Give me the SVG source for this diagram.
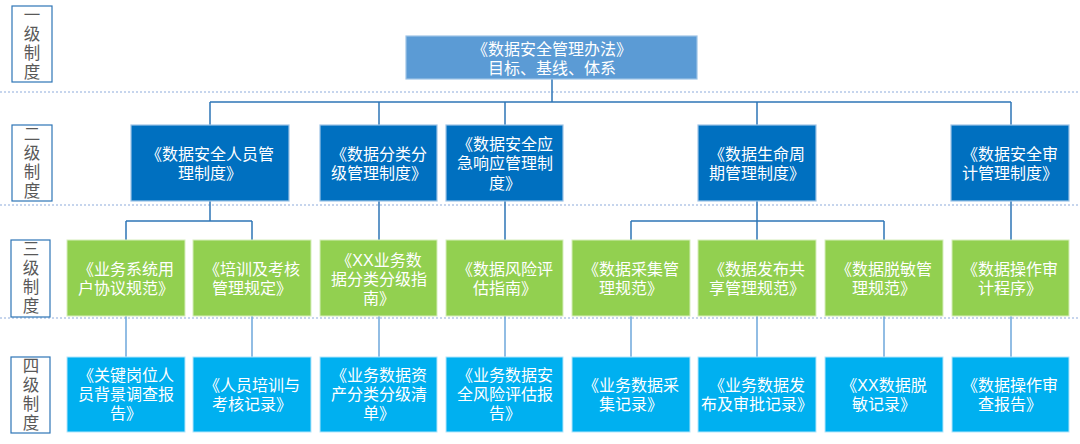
<svg xmlns="http://www.w3.org/2000/svg" width="1080" height="444" viewBox="0 0 1080 444">
<style>
.t{font-family:"Liberation Sans","Noto Sans CJK SC",sans-serif;font-size:16px;fill:#ffffff;text-anchor:middle;dominant-baseline:central}
.lab{font-family:"Liberation Sans","Noto Sans CJK SC",sans-serif;font-size:16.5px;fill:#595959;text-anchor:middle;dominant-baseline:central}
.lbox{fill:#ffffff;stroke:#2e75b6;stroke-width:1.2}
.top{fill:#5b9bd5;stroke:#9dc3e6;stroke-width:1.2}
.l2{fill:#0070c0;stroke:#9dc3e6;stroke-width:1.2}
.l3{fill:#92d050;stroke:#d6eebc;stroke-width:1}
.l4{fill:#00b0f0;stroke:#b3e6fb;stroke-width:1}
.dot{stroke:#b4c7e7;stroke-width:1.5;stroke-dasharray:2 2;fill:none}
.c1{stroke:#2e75b6;stroke-width:1.5;fill:none}
.c2{stroke:#6fa8dc;stroke-width:1.5;fill:none}
</style>
<rect width="1080" height="444" fill="#ffffff"/>
<g id="guides">
<line class="dot" x1="0" y1="92" x2="1080" y2="92"/>
<line class="dot" x1="0" y1="205" x2="1080" y2="205"/>
<line class="dot" x1="0" y1="318" x2="1080" y2="318"/>
</g>
<g id="level-labels">
<g id="lab1"><rect class="lbox" x="12" y="6" width="40" height="76"/><text class="lab" x="32" y="15">一</text><text class="lab" x="32" y="34">级</text><text class="lab" x="32" y="53">制</text><text class="lab" x="32" y="72">度</text></g>
<g id="lab2"><rect class="lbox" x="12" y="125" width="40" height="76"/><text class="lab" x="32" y="134">二</text><text class="lab" x="32" y="153">级</text><text class="lab" x="32" y="172">制</text><text class="lab" x="32" y="191">度</text></g>
<g id="lab3"><rect class="lbox" x="11" y="240" width="39" height="77"/><text class="lab" x="31" y="249">三</text><text class="lab" x="31" y="268">级</text><text class="lab" x="31" y="287">制</text><text class="lab" x="31" y="306">度</text></g>
<g id="lab4"><rect class="lbox" x="11" y="357" width="39" height="76"/><text class="lab" x="31" y="366">四</text><text class="lab" x="31" y="385">级</text><text class="lab" x="31" y="404">制</text><text class="lab" x="31" y="423">度</text></g>
</g>
<g id="connectors">
<path class="c1" d="M552 79V102M210 102H1011M210 102V125M379 102V125M505 102V125M757 102V125M1011 102V125"/>
<path class="c1" d="M210 201V221M126 221H252M126 221V240M252 221V240"/>
<path class="c1" d="M379 201V240M505 201V240M1011 201V240"/>
<path class="c1" d="M757 201V221M631 221H884M631 221V240M757 221V240M884 221V240"/>
<path class="c2" d="M126 316V357M252 316V357M379 316V357M505 316V357M631 316V357M757 316V357M884 316V357M1011 316V357"/>
</g>
<g id="n-top"><rect class="top" x="406" y="36" width="291" height="43"/><text class="t" x="552" y="49">《数据安全管理办法》</text><text class="t" x="552" y="68">目标、基线、体系</text></g>
<g id="n2-a"><rect class="l2" x="131" y="125" width="158" height="76"/><text class="t" x="210" y="154">《数据安全人员管</text><text class="t" x="210" y="173">理制度》</text></g>
<g id="n2-b"><rect class="l2" x="320" y="125" width="117" height="76"/><text class="t" x="379" y="154">《数据分类分</text><text class="t" x="379" y="173">级管理制度》</text></g>
<g id="n2-c"><rect class="l2" x="446" y="125" width="117" height="76"/><text class="t" x="505" y="144">《数据安全应</text><text class="t" x="505" y="163">急响应管理制</text><text class="t" x="505" y="183">度》</text></g>
<g id="n2-d"><rect class="l2" x="698" y="125" width="118" height="76"/><text class="t" x="757" y="154">《数据生命周</text><text class="t" x="757" y="173">期管理制度》</text></g>
<g id="n2-e"><rect class="l2" x="951" y="125" width="118" height="76"/><text class="t" x="1010" y="154">《数据安全审</text><text class="t" x="1010" y="173">计管理制度》</text></g>
<g id="n3-1"><rect class="l3" x="67" y="240" width="118" height="76"/><text class="t" x="126" y="269">《业务系统用</text><text class="t" x="126" y="288">户协议规范》</text></g>
<g id="n3-2"><rect class="l3" x="193" y="240" width="118" height="76"/><text class="t" x="252" y="269">《培训及考核</text><text class="t" x="252" y="288">管理规定》</text></g>
<g id="n3-3"><rect class="l3" x="320" y="240" width="117" height="76"/><text class="t" x="379" y="260">《XX业务数</text><text class="t" x="379" y="279">据分类分级指</text><text class="t" x="379" y="298">南》</text></g>
<g id="n3-4"><rect class="l3" x="446" y="240" width="117" height="76"/><text class="t" x="505" y="269">《数据风险评</text><text class="t" x="505" y="288">估指南》</text></g>
<g id="n3-5"><rect class="l3" x="572" y="240" width="118" height="76"/><text class="t" x="631" y="269">《数据采集管</text><text class="t" x="631" y="288">理规范》</text></g>
<g id="n3-6"><rect class="l3" x="698" y="240" width="118" height="76"/><text class="t" x="757" y="269">《数据发布共</text><text class="t" x="757" y="288">享管理规范》</text></g>
<g id="n3-7"><rect class="l3" x="825" y="240" width="118" height="76"/><text class="t" x="884" y="269">《数据脱敏管</text><text class="t" x="884" y="288">理规范》</text></g>
<g id="n3-8"><rect class="l3" x="952" y="240" width="117" height="76"/><text class="t" x="1010" y="269">《数据操作审</text><text class="t" x="1010" y="288">计程序》</text></g>
<g id="n4-1"><rect class="l4" x="67" y="357" width="118" height="75"/><text class="t" x="126" y="375">《关键岗位人</text><text class="t" x="126" y="394">员背景调查报</text><text class="t" x="126" y="413">告》</text></g>
<g id="n4-2"><rect class="l4" x="193" y="357" width="118" height="75"/><text class="t" x="252" y="385">《人员培训与</text><text class="t" x="252" y="404">考核记录》</text></g>
<g id="n4-3"><rect class="l4" x="320" y="357" width="117" height="75"/><text class="t" x="379" y="375">《业务数据资</text><text class="t" x="379" y="394">产分类分级清</text><text class="t" x="379" y="413">单》</text></g>
<g id="n4-4"><rect class="l4" x="446" y="357" width="117" height="75"/><text class="t" x="505" y="375">《业务数据安</text><text class="t" x="505" y="394">全风险评估报</text><text class="t" x="505" y="413">告》</text></g>
<g id="n4-5"><rect class="l4" x="572" y="357" width="118" height="75"/><text class="t" x="631" y="385">《业务数据采</text><text class="t" x="631" y="404">集记录》</text></g>
<g id="n4-6"><rect class="l4" x="698" y="357" width="118" height="75"/><text class="t" x="757" y="385">《业务数据发</text><text class="t" x="757" y="404">布及审批记录》</text></g>
<g id="n4-7"><rect class="l4" x="825" y="357" width="118" height="75"/><text class="t" x="884" y="385">《XX数据脱</text><text class="t" x="884" y="404">敏记录》</text></g>
<g id="n4-8"><rect class="l4" x="952" y="357" width="117" height="75"/><text class="t" x="1010" y="385">《数据操作审</text><text class="t" x="1010" y="404">查报告》</text></g>
</svg>
